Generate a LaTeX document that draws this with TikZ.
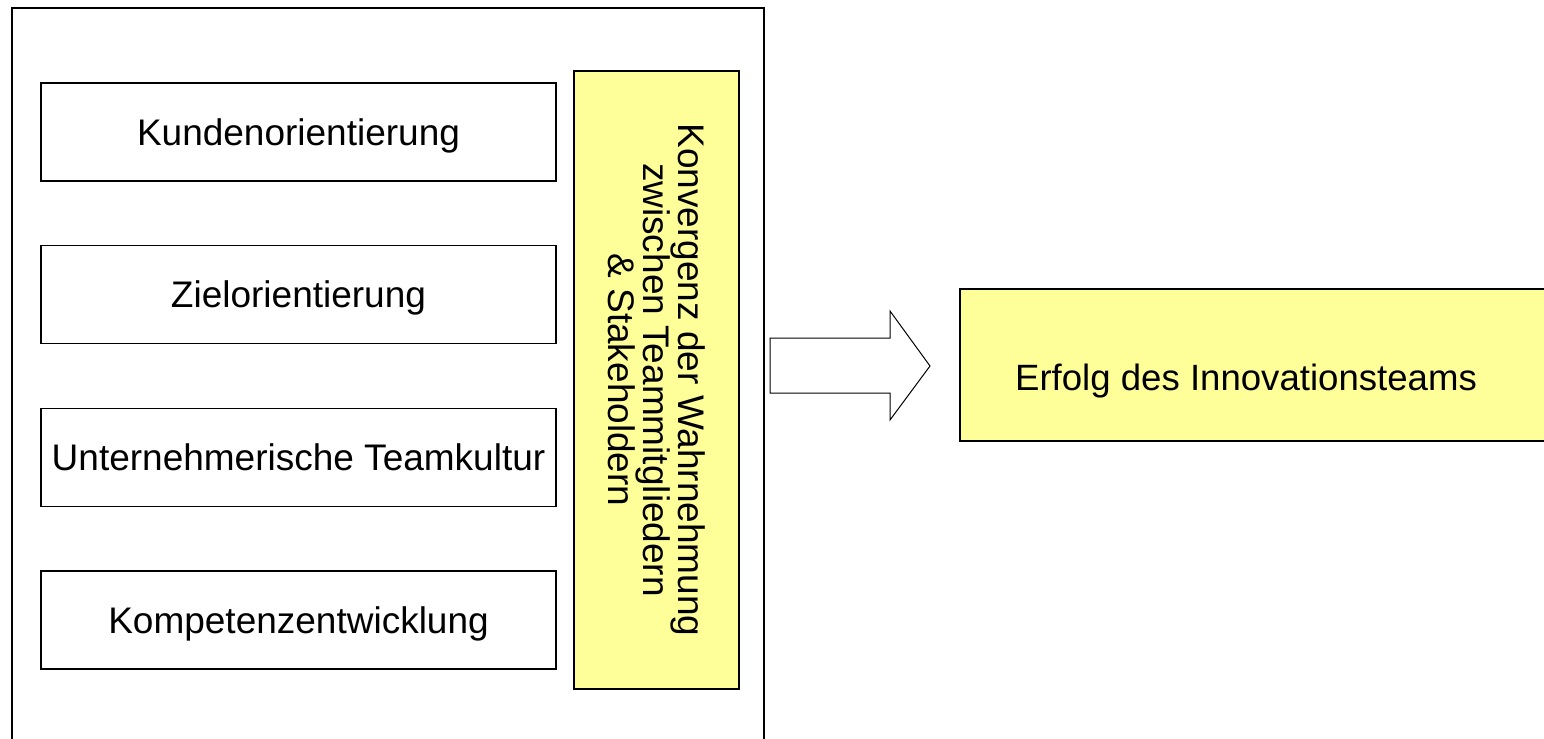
\documentclass[tikz,border=0pt]{standalone}
\usepackage{fontspec}
\setmainfont{Liberation Sans}
\usepackage{tikz}
\usetikzlibrary{positioning, calc}
\definecolor{pale}{HTML}{FFFF99}
\tikzset{factor/.style={draw, line width=.75pt, minimum width=257.5pt, minimum height=49pt, inner sep=0pt, text height=13.25pt, text depth=0pt, font=\fontsize{18.5}{22}\selectfont}}

\begin{document}
\begin{tikzpicture}[x=.5pt, y=-.5pt]
	    \begin{scope}[line width=.75pt]
	      \useasboundingbox (0,0) rectangle (1544,739);
	      \fill[white] (0,0) rectangle (1544,739);
	      \draw (12,8) rectangle (764,760);
	      \node[factor] at (298.5,132) (K) {Kundenorientierung};
	      \node[factor, below=31.6pt of K] (Z) {Zielorientierung};
	      \node[factor, below=31.6pt of Z] (U) {Unternehmerische Teamkultur};
	      \node[factor, below=31.6pt of U] (C) {Kompetenzentwicklung};
	      \node[draw, fill=pale, minimum width=82.5pt, minimum height=309pt, inner sep=0pt] at (656.5,380) (W) {};
	      \node[rotate=-90, align=center, inner sep=0pt, font=\fontsize{18.5}{17.5}\selectfont] at (W) (Wt) {Konvergenz der Wahrnehmung\\zwischen Teammitgliedern\\\& Stakeholdern};
	      \draw[line width=.5pt] (770,338) -- (890,338) -- (890,311) -- (930,366) -- (890,420) -- (890,393) -- (770,393) -- cycle;
	      \node[draw, fill=pale, minimum width=293pt, minimum height=76pt, inner sep=0pt] at (1253,365) (E) {};
	      \node[inner sep=0pt, text height=13.25pt, text depth=0pt, font=\fontsize{18.3}{22}\selectfont] at ($(E.center)+(-7,12)$) (Et) {Erfolg des Innovationsteams};
	    \end{scope}
\end{tikzpicture}
\end{document}
